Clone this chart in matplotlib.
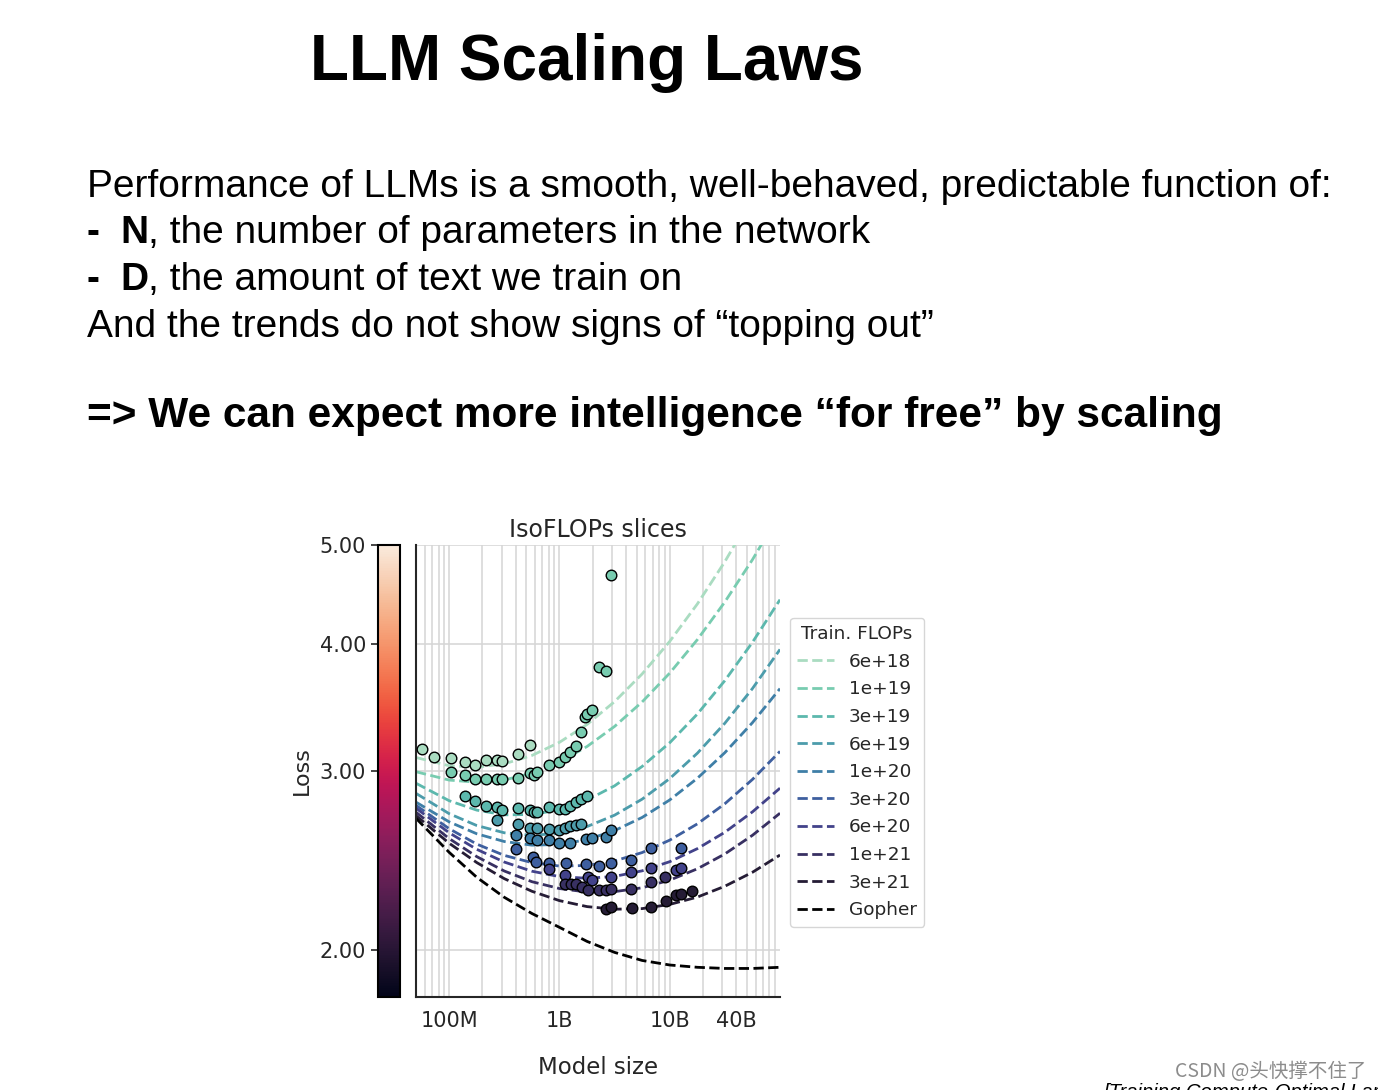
import numpy as np
import matplotlib
matplotlib.use("Agg")
import matplotlib.pyplot as plt
from matplotlib.colors import LogNorm
from matplotlib.colorbar import ColorbarBase
from matplotlib.ticker import FixedLocator, NullLocator, LogLocator
import seaborn as sns

#-------------------------------- data ---------------------------------------#
flop_labels = ['6e+18', '1e+19', '3e+19', '6e+19', '1e+20',
               '3e+20', '6e+20', '1e+21', '3e+21', 'Gopher']

model_grid = [5.0e7, 1.0e8, 1.78e8, 3.16e8, 5.62e8, 1.0e9, 1.78e9, 3.16e9,
              5.62e9, 1.0e10, 1.78e10, 3.16e10, 5.62e10, 1.0e11]

fit_6e18 = [3.093, 3.036, 3.026, 3.049, 3.107, 3.201, 3.333, 3.509, 3.736,
            4.021, 4.376, 4.815, 5.356, 6.03]
fit_1e19 = [2.995, 2.939, 2.925, 2.940, 2.985, 3.061, 3.171, 3.318, 3.507,
            3.743, 4.037, 4.396, 4.836, 5.374]
fit_3e19 = [2.918, 2.805, 2.746, 2.717, 2.719, 2.748, 2.809, 2.901, 3.031,
            3.198, 3.412, 3.680, 4.012, 4.419]
fit_6e19 = [2.852, 2.724, 2.652, 2.609, 2.594, 2.606, 2.646, 2.715, 2.815,
            2.949, 3.123, 3.342, 3.614, 3.949]
fit_1e20 = [2.796, 2.674, 2.603, 2.558, 2.537, 2.541, 2.569, 2.622, 2.701,
            2.810, 2.951, 3.127, 3.346, 3.614]
fit_3e20 = [2.776, 2.633, 2.543, 2.479, 2.439, 2.420, 2.423, 2.448, 2.495,
            2.566, 2.662, 2.786, 2.943, 3.136]
fit_6e20 = [2.758, 2.609, 2.513, 2.442, 2.392, 2.363, 2.354, 2.364, 2.394,
            2.444, 2.517, 2.612, 2.735, 2.886]
fit_1e21 = [2.733, 2.575, 2.472, 2.393, 2.336, 2.300, 2.282, 2.284, 2.304,
            2.344, 2.405, 2.487, 2.594, 2.727]
fit_3e21 = [2.712, 2.548, 2.439, 2.352, 2.286, 2.238, 2.208, 2.195, 2.198,
            2.219, 2.256, 2.312, 2.386, 2.481]
fit_gopher = [2.696, 2.496, 2.359, 2.255, 2.174, 2.107, 2.041, 1.991, 1.955,
              1.935, 1.925, 1.920, 1.920, 1.925]

#measured runs, one pair of lists per FLOP budget
pts_6e18_n = [56.5e6, 72.6e6, 104e6, 138e6, 173e6, 214e6, 271e6, 303e6,
              418e6, 545e6]
pts_6e18_l = [3.154, 3.097, 3.090, 3.060, 3.044, 3.074, 3.074, 3.070,
              3.116, 3.180]

pts_1e19_n = [104e6, 138e6, 173e6, 214e6, 271e6, 303e6, 418e6, 545e6,
              584e6, 627e6, 811e6, 1.0e9, 1.13e9, 1.25e9, 1.42e9, 1.58e9,
              1.72e9, 1.79e9, 1.98e9, 2.26e9, 2.62e9, 2.95e9]
pts_1e19_l = [2.992, 2.971, 2.943, 2.945, 2.943, 2.943, 2.956, 2.987,
              2.976, 2.994, 3.044, 3.062, 3.093, 3.132, 3.175, 3.280,
              3.393, 3.411, 3.447, 3.793, 3.759, 4.667]

pts_3e19_n = [138e6, 173e6, 214e6, 271e6, 303e6, 418e6, 545e6, 584e6,
              627e6, 811e6, 1.0e9, 1.13e9, 1.25e9, 1.42e9, 1.58e9, 1.79e9]
pts_3e19_l = [2.833, 2.802, 2.772, 2.766, 2.746, 2.760, 2.746, 2.735,
              2.735, 2.766, 2.750, 2.756, 2.772, 2.797, 2.818, 2.836]

pts_6e19_n = [271e6, 418e6, 545e6, 627e6, 811e6, 1.0e9, 1.13e9, 1.25e9,
              1.42e9, 1.58e9]
pts_6e19_l = [2.688, 2.664, 2.640, 2.637, 2.630, 2.624, 2.640, 2.648,
              2.658, 2.664]

pts_1e20_n = [404e6, 545e6, 627e6, 811e6, 1.0e9, 1.25e9, 1.75e9, 1.98e9,
              2.62e9, 2.95e9]
pts_1e20_l = [2.594, 2.581, 2.569, 2.565, 2.549, 2.549, 2.575, 2.578,
              2.584, 2.628]

pts_3e20_n = [404e6, 572e6, 614e6, 811e6, 1.15e9, 1.75e9, 2.26e9, 2.95e9,
              4.49e9, 6.82e9, 12.6e9]
pts_3e20_l = [2.517, 2.470, 2.442, 2.437, 2.437, 2.429, 2.418, 2.437,
              2.451, 2.523, 2.523]

pts_6e20_n = [811e6, 1.13e9, 1.81e9, 1.98e9, 2.95e9, 4.49e9, 6.82e9,
              11.3e9, 12.6e9]
pts_6e20_l = [2.406, 2.370, 2.361, 2.343, 2.361, 2.387, 2.409, 2.401, 2.411]

pts_1e21_n = [1.13e9, 1.28e9, 1.42e9, 1.61e9, 1.81e9, 2.28e9, 2.62e9,
              2.95e9, 4.49e9, 6.82e9, 9.14e9]
pts_1e21_l = [2.326, 2.326, 2.322, 2.308, 2.294, 2.291, 2.291, 2.300,
              2.300, 2.334, 2.361]

pts_3e21_n = [2.62e9, 2.95e9, 4.54e9, 6.82e9, 9.2e9, 11.3e9, 12.6e9, 16.0e9]
pts_3e21_l = [2.198, 2.206, 2.201, 2.206, 2.234, 2.265, 2.270, 2.285]

x_ticks = [1e8, 1e9, 1e10, 4e10]
x_tick_labels = ['100M', '1B', '10B', '40B']
cbar_ticks = [2, 3, 4, 5]
cbar_tick_labels = ['2.00', '3.00', '4.00', '5.00']

#------------------------------- styling -------------------------------------#
line_colors = ['#aadcc1', '#78ccb0', '#5cb8ad', '#4c9cab', '#3f7fa7',
               '#3e5f9f', '#42428a', '#383062', '#251c35', '#000000']
text_dark = '#262626'
W, H = 1378, 1090

fits = [fit_6e18, fit_1e19, fit_3e19, fit_6e19, fit_1e20, fit_3e20,
        fit_6e20, fit_1e21, fit_3e21, fit_gopher]
points = [(pts_6e18_n, pts_6e18_l), (pts_1e19_n, pts_1e19_l),
          (pts_3e19_n, pts_3e19_l), (pts_6e19_n, pts_6e19_l),
          (pts_1e20_n, pts_1e20_l), (pts_3e20_n, pts_3e20_l),
          (pts_6e20_n, pts_6e20_l), (pts_1e21_n, pts_1e21_l),
          (pts_3e21_n, pts_3e21_l)]


def fx(x):
    """pixel x -> figure fraction"""
    return x / W


def fy(y):
    """pixel y (from top) -> figure fraction"""
    return 1 - y / H


fig = plt.figure(figsize=(W / 100, H / 100), dpi=100)
fig.patch.set_facecolor('white')
renderer = fig.canvas.get_renderer()

#------------------------------ slide text -----------------------------------#
slide_font = 'Liberation Sans'
body_size = 28

fig.text(fx(587), fy(80), 'LLM Scaling Laws', fontsize=46,
         fontweight='bold', family=slide_font, ha='center', va='baseline')

fig.text(fx(87), fy(197), 'Performance of LLMs is a smooth, well-behaved, '
         'predictable function of:', fontsize=body_size, family=slide_font,
         va='baseline')

#bullet lines with a bold letter in front
for base, letter, rest in [(243, 'N', ', the number of parameters in the network'),
                           (290, 'D', ', the amount of text we train on')]:
    fig.text(fx(87), fy(base), '-', fontsize=body_size, family=slide_font,
             fontweight='bold', va='baseline')
    t = fig.text(fx(120), fy(base), letter, fontsize=body_size,
                 family=slide_font, fontweight='bold', va='baseline')
    bb = t.get_window_extent(renderer=renderer)
    fig.text(bb.x1 / W, fy(base), rest, fontsize=body_size,
             family=slide_font, va='baseline')

fig.text(fx(87), fy(337), 'And the trends do not show signs of \u201ctopping out\u201d',
         fontsize=body_size, family=slide_font, va='baseline')

fig.text(fx(87), fy(427), '=> We can expect more intelligence \u201cfor free\u201d by scaling',
         fontsize=30.5, family=slide_font, fontweight='bold', va='baseline')

#------------------------------ the chart ------------------------------------#
ax = fig.add_axes([fx(416), fy(997), 364 / W, 452 / H])
cax = fig.add_axes([fx(378), fy(997), 22 / W, 452 / H])

handles = []
for i in range(len(fits)):
    ln, = ax.plot(model_grid, fits[i], linestyle='--', lw=2.0,
                  color=line_colors[i], label=flop_labels[i], zorder=2)
    handles.append(ln)

for i in range(len(points)):
    n, l = points[i]
    ax.scatter(n, l, s=58, color=line_colors[i], edgecolor='black',
               linewidth=1.0, zorder=3)

ax.set_xscale('log')
ax.set_yscale('log')
ax.set_xlim(5e7, 1e11)
ax.set_ylim(1.8, 5.0)

ax.xaxis.set_major_locator(FixedLocator(x_ticks))
ax.set_xticklabels(x_tick_labels)
ax.xaxis.set_minor_locator(LogLocator(base=10, subs=np.arange(2, 10)))
ax.xaxis.set_minor_formatter(plt.NullFormatter())
ax.yaxis.set_major_locator(FixedLocator(cbar_ticks))
ax.yaxis.set_minor_locator(NullLocator())
ax.tick_params(axis='y', which='both', length=0, labelleft=False)
ax.tick_params(axis='x', which='both', length=0, pad=10, labelsize=15,
               labelcolor=text_dark)

ax.grid(True, axis='x', which='both', color='#d5d5d5', lw=1.1, zorder=0)
ax.grid(True, axis='y', which='major', color='#d5d5d5', lw=1.1, zorder=0)
ax.set_axisbelow(True)

for side in ['top', 'right']:
    ax.spines[side].set_visible(False)
for side in ['left', 'bottom']:
    ax.spines[side].set_color(text_dark)
    ax.spines[side].set_linewidth(1.5)

ax.set_title('IsoFLOPs slices', fontsize=17, pad=6, color=text_dark)
ax.set_xlabel('Model size', fontsize=16.5, labelpad=18, color=text_dark)

leg = ax.legend(handles=handles, title='Train. FLOPs', loc='upper left',
                bbox_to_anchor=(1.027, 0.839), borderaxespad=0,
                fontsize=13.3, title_fontsize=13.3, handlelength=2.0,
                labelspacing=0.52, handletextpad=0.8, borderpad=0.4,
                edgecolor='#cccccc', fancybox=True)
for txt in leg.get_texts():
    txt.set_color(text_dark)
leg.get_title().set_color(text_dark)

#colorbar with the loss scale
rocket = sns.color_palette('rocket', as_cmap=True)
cb = ColorbarBase(cax, cmap=rocket, norm=LogNorm(vmin=1.8, vmax=5.0),
                  orientation='vertical')
cb.set_ticks(cbar_ticks)
cb.set_ticklabels(cbar_tick_labels)
cax.yaxis.set_minor_locator(NullLocator())
cax.yaxis.set_ticks_position('left')
cax.yaxis.set_label_position('left')
cax.tick_params(axis='y', length=5, width=1.2, labelsize=15,
                labelcolor=text_dark, color=text_dark)
cb.outline.set_linewidth(1.5)
cb.outline.set_edgecolor('black')
cax.set_ylabel('Loss', fontsize=16, labelpad=6, color=text_dark)

#------------------------------- footer --------------------------------------#
fig.text(fx(1175), fy(1077), 'CSDN @头快撑不住了', fontsize=14,
         family=['Noto Sans CJK SC', 'DejaVu Sans'], color='#8c8c8c',
         va='baseline')
fig.text(fx(1103), fy(1098), '[Training Compute-Optimal Large Language Models]',
         fontsize=14.6, family=slide_font, style='italic', color='black',
         va='baseline')

fig.savefig('out.png', dpi=100)
